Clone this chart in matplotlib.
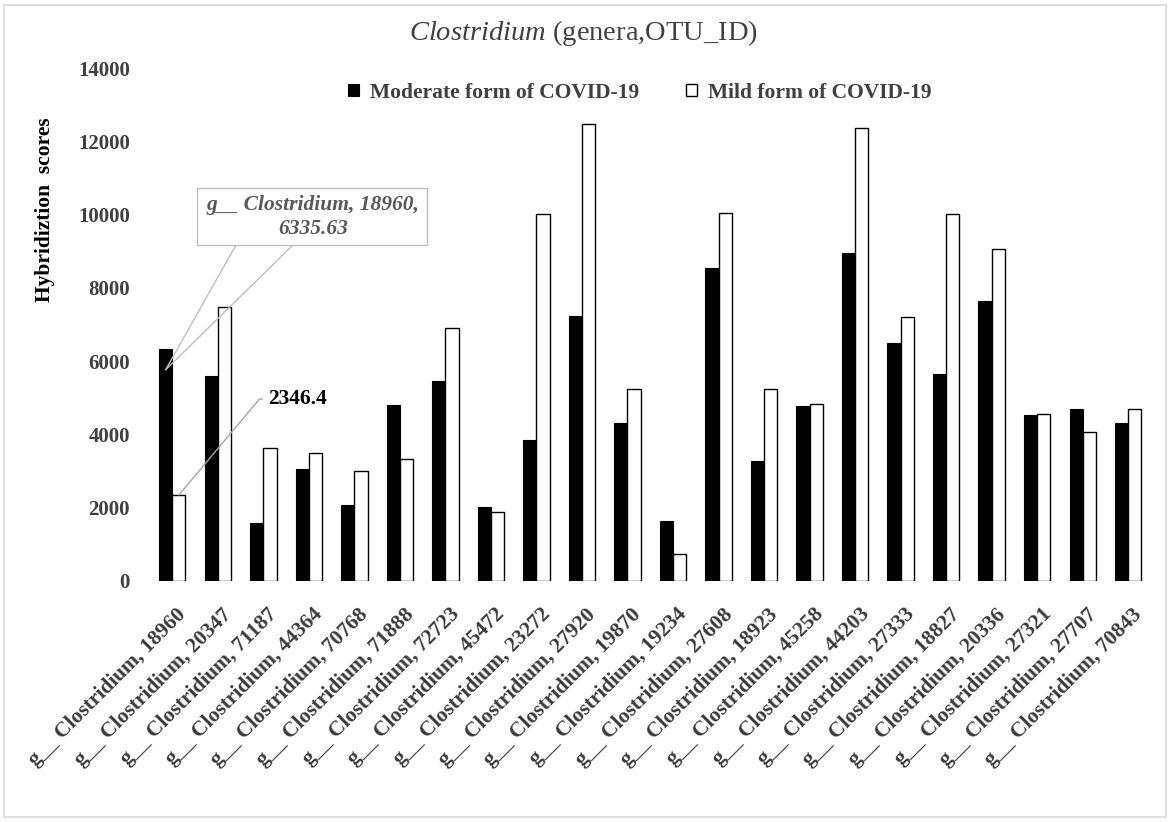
import numpy as np
import matplotlib
matplotlib.use("Agg")
import matplotlib.pyplot as plt
from matplotlib.patches import Rectangle
import matplotlib.transforms as mtransforms

plt.rcParams['font.family'] = ['Liberation Serif', 'DejaVu Serif']
plt.rcParams['mathtext.fontset'] = 'custom'
plt.rcParams['mathtext.rm'] = 'Liberation Serif'
plt.rcParams['mathtext.it'] = 'Liberation Serif:italic'
plt.rcParams['mathtext.bf'] = 'Liberation Serif:bold'

otu_ids = ['18960', '20347', '71187', '44364', '70768', '71888', '72723', '45472',
           '23272', '27920', '19870', '19234', '27608', '18923', '45258', '44203',
           '27333', '18827', '20336', '27321', '27707', '70843']
moderate = [6335.63, 5595, 1591, 3065, 2066, 4812, 5450, 2011, 3857, 7233, 4312,
            1637, 8534, 3266, 4768, 8961, 6487, 5641, 7650, 4540, 4703, 4312]
mild = [2346.4, 7486, 3630, 3502, 2994, 3338, 6905, 1883, 10025, 12473, 5240,
        746, 10052, 5232, 4840, 12355, 7197, 10008, 9069, 4567, 4075, 4694]
labels = ['g__ Clostridium, ' + i for i in otu_ids]

W, H = 1170, 822
fig = plt.figure(figsize=(W / 100, H / 100), dpi=100)
ax = fig.add_axes([149.5 / W, 1 - 581 / H, (1151 - 149.5) / W, (581 - 68) / H])

x = np.arange(len(otu_ids))
w = 0.29
ax.bar(x - w / 2, moderate, w, color='black', edgecolor='black', linewidth=0.8,
       label='Moderate form of COVID-19')
ax.bar(x + w / 2, mild, w, color='white', edgecolor='black', linewidth=1.0,
       label='Mild form of COVID-19')

ax.set_xlim(-0.5, len(otu_ids) - 0.5)
ax.set_ylim(0, 14000)
ax.set_yticks(np.arange(0, 14001, 2000))
for s in ax.spines.values():
    s.set_visible(False)

ax.tick_params(axis='y', length=0, pad=14, labelsize=15, labelcolor='#404040')
for t in ax.get_yticklabels():
    t.set_fontweight('bold')

ax.set_xticks(x)
ax.set_xticklabels(labels, rotation=45, ha='right', rotation_mode='anchor',
                   fontsize=15.5, fontweight='bold', color='#3a3a3a')
ax.tick_params(axis='x', length=0, pad=17)
offset = mtransforms.ScaledTranslation(4 / 100, 0, fig.dpi_scale_trans)
for t in ax.get_xticklabels():
    t.set_transform(t.get_transform() + offset)

fig.text(45 / W, 1 - 210 / H, 'Hybridiztion  scores', rotation=90, ha='center',
         va='center', fontsize=15.5, fontweight='bold', color='black')

fig.text(583 / W, 1 - 33 / H, r'$\it{Clostridium}$ (genera,OTU_ID)', ha='center',
         va='center', fontsize=20.5, color='#404040')

ax.legend(loc='center', bbox_to_anchor=(640 / W, 1 - 93 / H),
          bbox_transform=fig.transFigure, ncol=2, frameon=False,
          handlelength=0.5, handleheight=0.5, handletextpad=0.5,
          columnspacing=2.2, prop={'size': 15.5, 'weight': 'bold'},
          labelcolor='#404040')

# callout for first moderate bar
apex = (x[0] - w / 2, moderate[0] * 0.91)
for bx in (236, 293):
    ax.annotate('', xy=apex, xycoords='data', xytext=(bx, H - 245),
                textcoords='figure pixels',
                arrowprops=dict(arrowstyle='-', color='#bfbfbf', lw=1,
                                shrinkA=0, shrinkB=0), zorder=4)
fig.patches.append(Rectangle((197 / W, 1 - 245 / H), 230 / W, 57 / H,
                             transform=fig.transFigure, facecolor='white',
                             edgecolor='#bfbfbf', lw=1, zorder=5))
fig.text(313 / W, 1 - 217 / H, 'g__ Clostridium, 18960,\n%.2f' % moderate[0],
         ha='center', va='center', fontsize=15.5, fontweight='bold',
         fontstyle='italic', color='#595959', linespacing=1.3, zorder=6)

# label for first mild bar
ax.annotate('%.1f' % mild[0], xy=(x[0] + w / 2, mild[0]), xycoords='data',
            xytext=(268, H - 399), textcoords='figure pixels', ha='left',
            va='center', fontsize=15.5, fontweight='bold', color='black',
            arrowprops=dict(arrowstyle='-', color='#a6a6a6', lw=1,
                            connectionstyle='angle,angleA=0,angleB=50,rad=0',
                            relpos=(0, 0.5), shrinkA=2, shrinkB=0))

fig.patches.append(Rectangle((4 / W, 5 / H), 1162 / W, 812 / H,
                             transform=fig.transFigure, facecolor='none',
                             edgecolor='#d9d9d9', lw=1.2))

fig.savefig('out.png', dpi=100)
